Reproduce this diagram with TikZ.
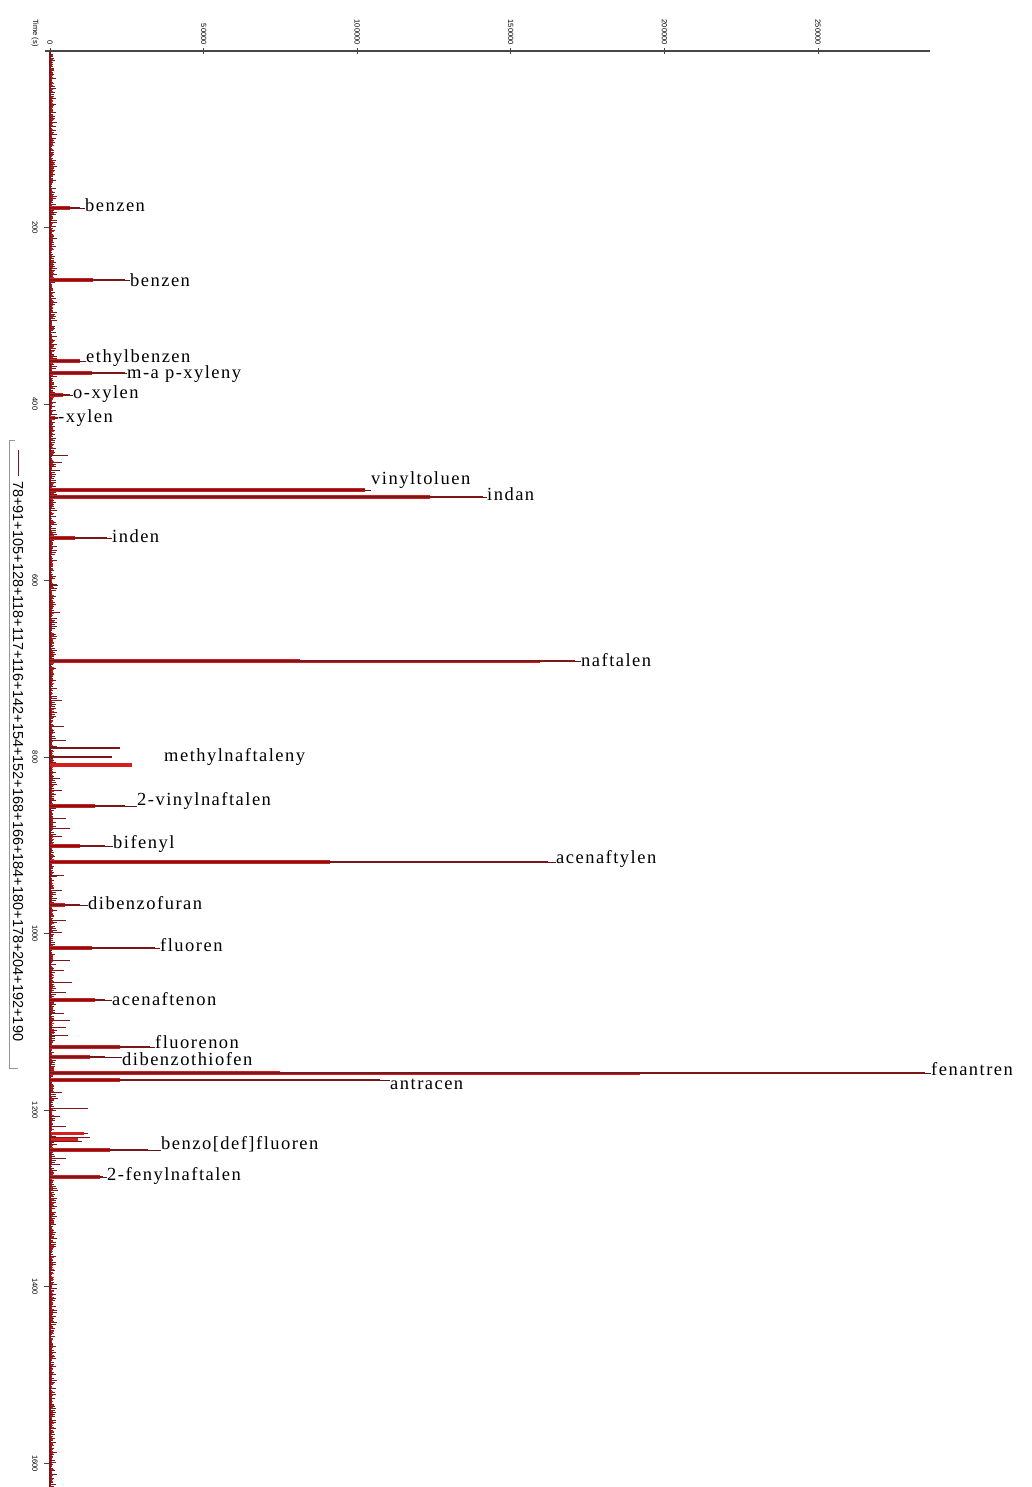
\documentclass[tikz,border=0pt]{standalone}
\usepackage{fontspec}
\setmainfont{Liberation Serif}
\newfontfamily\lblfont[LetterSpace=8]{Liberation Serif}
\newfontfamily\axfont{Liberation Sans}
\definecolor{pkred}{RGB}{214,30,30}
\definecolor{pkdark}{RGB}{125,22,24}
\definecolor{axgray}{RGB}{70,70,70}
\definecolor{boxgray}{RGB}{150,150,150}
\newcommand\pkdraw[8]{%
  \coordinate (#1-b) at (50,#2);
  \coordinate (#1-r) at (#3,#2);
  \coordinate (#1-e) at (#4,#2);
  \node[lab] (#1) at (#5,#6) {#7};
  \draw[redband] (#1-b) -- (#1-r);
  \draw[peakline] (#1-b) -- (#1-e);
  \draw[leader] (#1-e) -- (#1.west|-#1-e);
}
\begin{document}
\begin{tikzpicture}[x=1pt,y=-1pt,
  lab/.style={font=\lblfont\fontsize{18.5}{22}\selectfont, inner sep=0pt, anchor=west, text=black},
  ticklab/.style={font=\axfont\fontsize{7.5}{8}\selectfont, inner sep=0pt, rotate=-90, text=black},
  redband/.style={draw=pkred, line width=3.6pt},
  peakline/.style={draw=pkdark, line width=1.1pt},
  leader/.style={draw=pkdark!80!black, line width=0.8pt},
  noise/.style={draw=pkdark, line width=0.9pt},
  noisered/.style={draw=pkred, line width=0.9pt},
  axisline/.style={draw=axgray, line width=1.4pt}]
\useasboundingbox (0,0) rectangle (1032,1487);
\fill[white] (0,0) rectangle (1032,1487);

% ---- axes
\coordinate (o) at (50,51);
\coordinate (xend) at (930,51);
\coordinate (ybot) at (50,1487);
\draw[axisline] (45,51) -- (xend);
\foreach \v/\x in {0/50,50000/203.6,100000/357.2,150000/510.8,200000/664.4,250000/818}{
  \draw[axisline, line width=1pt] (\x,48) -- (\x,54);
  \node[ticklab, anchor=east] at (\x,45) {\v};
}
\node[ticklab] (tlab) at (35,33) {Time (s)};
\foreach \t in {200,400,...,1600}{
  \pgfmathsetmacro\yy{51+0.8827*\t}
  \draw[axisline, line width=1pt] (44,\yy) -- (50,\yy);
  \node[ticklab] at (35,\yy) {\t};
}

% ---- legend
\draw[boxgray, line width=0.6pt] (15,440) -- (9,440) -- (9,1068) -- (18,1068);
\draw[pkdark, line width=1pt] (18,450) -- (18,476);
\node[font=\axfont\fontsize{14.5}{16}\selectfont, rotate=-90, anchor=west, inner sep=0pt] (leg) at (18,481)
  {78+91+105+128+118+117+116+142+154+152+168+166+184+180+178+204+192+190};

% ---- baseline noise
\pgfmathsetseed{4242}
\foreach \yy in {54,56,...,1486}{
  \pgfmathsetmacro\ll{50+1.5+5.5*rnd}
  \pgfmathsetmacro\lr{50+1+3*rnd}
  \draw[noise] (50,\yy) -- (\ll,\yy);
  \draw[noisered] (50,\yy+1) -- (\lr,\yy+1);
}
\foreach \yy/\ll in {455/68,462/62,470/60,585/58,612/60,700/62,726/64,740/66,778/60,790/62,818/66,828/70,836/62,875/64,890/62,920/66,932/62,960/70,970/64,982/72,992/66,1013/64,1020/70,1027/66,1035/68,1092/62,1098/58,1108/88,1116/60,1126/66,1133/88,1137/90,1141/82,1158/66,1164/60,1190/58,1200/56}{
  \draw[noise] (50,\yy) -- (\ll,\yy);
}
\draw[pkred, line width=3pt] (50,1133) -- (84,1133);
\draw[pkred, line width=3pt] (50,1139) -- (78,1139);
\draw[pkdark, line width=1.8pt] (o) -- (ybot);

% ---- peaks: name, y, red end, line end, label x, label y, text
\pkdraw{benz1}{208}{70}{80}{85}{205}{benzen}{}
\pkdraw{benz2}{280}{93}{125}{130}{280}{benzen}{}
\pkdraw{ebenz}{361}{80}{80}{86}{358}{ethylbenzen}{}
\pkdraw{mpx}{373}{92}{125}{127}{374}{m-a p-xyleny}{}
\pkdraw{ox}{395}{63}{70}{73}{394}{o-xylen}{}
\pkdraw{px}{418}{55}{58}{58}{418}{-xylen}{}
\pkdraw{vt}{490}{365}{365}{371}{480}{vinyltoluen}{}
\pkdraw{indan}{497}{430}{483}{487}{494}{indan}{}
\pkdraw{inden}{538}{75}{107}{112}{536}{inden}{}
\draw[pkred, line width=1.5pt] (50,662) -- (540,662);
\pkdraw{naft}{661}{300}{575}{581}{660}{naftalen}{}
\draw[pkred, line width=1.6pt] (50,748) -- (90,748);
\draw[peakline] (50,748) -- (120,748);
\draw[peakline] (50,757) -- (112,757);
\draw[redband, line width=4pt] (50,765) -- (132,765);
\node[lab] (mnaft) at (164,757) {methylnaftaleny};
\pkdraw{vnaft}{806}{95}{125}{137}{801}{2-vinylnaftalen}{}
\pkdraw{bif}{846}{80}{105}{113}{844}{bifenyl}{}
\pkdraw{acy}{862}{330}{548}{556}{859}{acenaftylen}{}
\pkdraw{dbf}{905}{65}{80}{88}{903}{dibenzofuran}{}
\pkdraw{flu}{948}{92}{155}{160}{945}{fluoren}{}
\pkdraw{acn}{1000}{95}{105}{112}{999}{acenaftenon}{}
\pkdraw{fln}{1047}{120}{150}{155}{1042}{fluorenon}{}
\pkdraw{dbt}{1057}{90}{105}{122}{1059}{dibenzothiofen}{}
\draw[pkred, line width=1.5pt] (50,1074) -- (640,1074);
\pkdraw{fen}{1073}{280}{925}{931}{1069}{fenantren}{}
\pkdraw{ant}{1080}{120}{380}{390}{1084}{antracen}{}
\pkdraw{bdf}{1150}{110}{148}{161}{1144}{benzo[def]fluoren}{}
\pkdraw{fnaft}{1177}{100}{103}{107}{1176}{2-fenylnaftalen}{}
\end{tikzpicture}
\end{document}
